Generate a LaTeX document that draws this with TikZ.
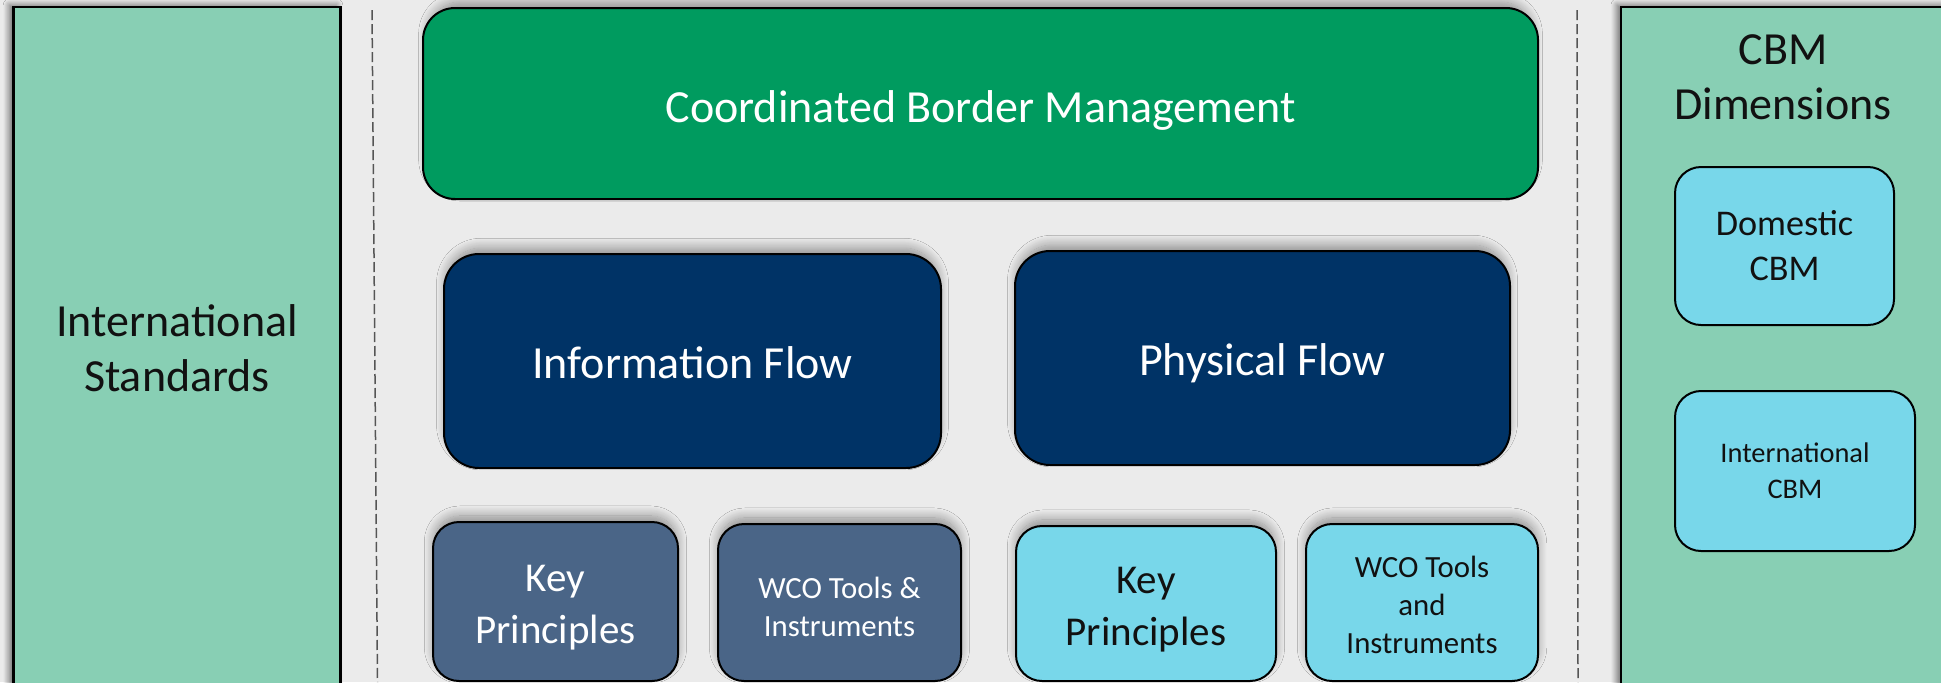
\documentclass[tikz,border=0pt]{standalone}
\usepackage{fontspec}
\setmainfont{Carlito}
\usetikzlibrary{shadows.blur}
\definecolor{bgc}{HTML}{EBEBEB}
\definecolor{panelc}{HTML}{88CFB4}
\definecolor{cbmc}{HTML}{009B5F}
\definecolor{navyc}{HTML}{003366}
\definecolor{slatec}{HTML}{4A6587}
\definecolor{cyanc}{HTML}{78D7EA}
\definecolor{dashc}{HTML}{555555}
\definecolor{inkc}{HTML}{111111}
\tikzset{
  shad/.style={blur shadow={shadow xshift=0pt, shadow yshift=3.5pt, shadow scale=0.99, shadow blur radius=5pt, shadow opacity=40, shadow blur steps=14}},
  pshad/.style={blur shadow={shadow xshift=-2pt, shadow yshift=1pt, shadow blur radius=3pt, shadow opacity=55, shadow blur steps=10}},
  panel/.style={draw=black, line width=1.3pt, fill=panelc, inner sep=0pt, pshad},
  rbox/.style={draw=black, line width=1pt, inner sep=0pt, shad},
  dimbox/.style={draw=black, line width=1pt, inner sep=0pt, fill=cyanc},
  lbl/.style={inner sep=0pt, align=center},
  bigfont/.style={font=\fontsize{23}{27.5}\selectfont},
  keyfont/.style={font=\fontsize{20.5}{26}\selectfont},
  wcofont/.style={font=\fontsize{15.4}{19.2}\selectfont},
  sepline/.style={draw=dashc, line width=0.75pt, dash pattern=on 5pt off 2pt}
}
\begin{document}
\begin{tikzpicture}[x=0.5pt,y=-0.5pt]
\useasboundingbox (0,0) rectangle (1941,682);
\fill[bgc] (0,0) rectangle (1941,682);
\begin{scope}
\clip (0,0) rectangle (1941,682);
% side panels
\node[panel, minimum width=163.75pt, minimum height=341.5pt] (leftpanel) at (177,348.5) {};
\node[lbl, bigfont, text=inkc] (lefttext) at (leftpanel.center) {International\\Standards};
\node[panel, minimum width=164.5pt, minimum height=341.5pt] (rightpanel) at (1785.5,348.5) {};
\node[lbl, bigfont, text=inkc] (dimtitle) at (1783,77.5) {CBM\\Dimensions};
% separators
\coordinate (sepAtop) at (372,10);
\coordinate (sepAbot) at (377.5,682);
\coordinate (sepBtop) at (1577,10);
\coordinate (sepBbot) at (1578,682);
\draw[sepline] (sepAtop) -- (sepAbot);
\draw[sepline] (sepBtop) -- (sepBbot);
% main boxes
\node[rbox, fill=cbmc, rounded corners=16pt, minimum width=557.5pt, minimum height=95.5pt] (cbm) at (980.5,103.5) {};
\node[lbl, bigfont, text=white] (cbmtext) at ([yshift=-3.7pt]cbm.center) {Coordinated Border Management};
\node[rbox, fill=navyc, rounded corners=17.5pt, minimum width=248.5pt, minimum height=107pt] (info) at (692.5,361) {};
\node[lbl, bigfont, text=white] (infotext) at ([yshift=-0.6pt]info.center) {Information Flow};
\node[rbox, fill=navyc, rounded corners=17.5pt, minimum width=247.5pt, minimum height=107pt] (phys) at (1262.5,358) {};
\node[lbl, bigfont, text=white] (phystext) at ([yshift=-2.5pt]phys.center) {Physical Flow};
% bottom row
\node[rbox, fill=slatec, rounded corners=13pt, minimum width=122.5pt, minimum height=79.5pt] (keyA) at (555.5,601.5) {};
\node[lbl, keyfont, text=white] (keyAtext) at ([yshift=-3.1pt]keyA.center) {Key\\Principles};
\node[rbox, fill=slatec, rounded corners=13pt, minimum width=121.5pt, minimum height=78.5pt] (wcoA) at (839.5,602.5) {};
\node[lbl, wcofont, text=white] (wcoAtext) at ([yshift=-2.2pt]wcoA.center) {WCO Tools \&\\Instruments};
\node[rbox, fill=cyanc, rounded corners=13pt, minimum width=130pt, minimum height=77.5pt] (keyB) at (1146,603.5) {};
\node[lbl, keyfont, text=inkc] (keyBtext) at ([yshift=-3.1pt]keyB.center) {Key\\Principles};
\node[rbox, fill=cyanc, rounded corners=13pt, minimum width=116pt, minimum height=78.5pt] (wcoB) at (1422,602.5) {};
\node[lbl, wcofont, text=inkc] (wcoBtext) at ([yshift=-1.2pt]wcoB.center) {WCO Tools\\and\\Instruments};
% dimensions
\node[dimbox, rounded corners=13pt, minimum width=109.5pt, minimum height=79pt] (dom) at (1784.5,246) {};
\node[lbl, text=inkc, font=\fontsize{18.1}{22.5}\selectfont] (domtext) at (dom.center) {Domestic\\CBM};
\node[dimbox, rounded corners=13pt, minimum width=120pt, minimum height=80pt] (intl) at (1795,471) {};
\node[lbl, text=inkc, font=\fontsize{14.2}{18}\selectfont] (intltext) at (intl.center) {International\\CBM};
\end{scope}
\end{tikzpicture}
\end{document}
